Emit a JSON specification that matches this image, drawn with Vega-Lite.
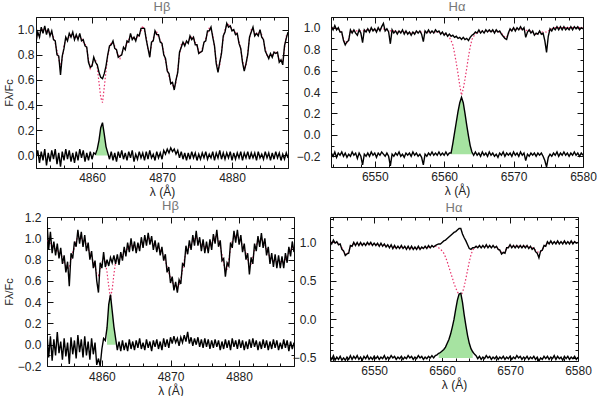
{
"$schema": "https://vega.github.io/schema/vega-lite/v6.json",
"padding": {"left": 1, "top": 0, "right": 0, "bottom": 0},
"config": {
  "font": "Liberation Sans",
  "view": {"stroke": "#111", "strokeWidth": 1},
  "axis": {"domain": false, "grid": false, "tickColor": "#111", "tickWidth": 1, "labelColor": "#222", "labelFontSize": 12, "titleFontSize": 12, "titleFontWeight": "normal", "titleColor": "#222", "labelFont": "Liberation Sans", "titleFont": "Liberation Sans", "labelFlush": false, "labelOverlap": false},
  "axisLeft": {"titleFontSize": 11},
  "title": {"fontSize": 13, "fontWeight": "normal", "color": "#777", "font": "Liberation Sans"}
},
"datasets": {
"p1": [
{"w":4852,"m":0.93,"o":0.90,"r":-0.02},{"w":4852.25,"m":0.95,"o":0.98,"r":0.04},{"w":4852.5,"m":0.97,"o":0.94,"r":-0.06},{"w":4852.75,"m":0.99,"o":1.02,"r":0.03},
{"w":4853,"m":1.00,"o":0.97,"r":-0.04},{"w":4853.25,"m":0.99,"o":1.03,"r":0.05},{"w":4853.5,"m":0.99,"o":0.96,"r":-0.08},{"w":4853.75,"m":0.98,"o":1.01,"r":0.02},
{"w":4854,"m":0.98,"o":0.95,"r":-0.05},{"w":4854.25,"m":0.97,"o":0.99,"r":0.04},{"w":4854.5,"m":0.94,"o":0.92,"r":-0.03},{"w":4854.75,"m":0.89,"o":0.91,"r":0.05},
{"w":4855,"m":0.83,"o":0.80,"r":-0.07},{"w":4855.25,"m":0.77,"o":0.79,"r":0.02},{"w":4855.5,"m":0.70,"o":0.64,"r":-0.09},{"w":4855.75,"m":0.77,"o":0.79,"r":0.03},
{"w":4856,"m":0.87,"o":0.85,"r":-0.04},{"w":4856.25,"m":0.92,"o":0.94,"r":0.05},{"w":4856.5,"m":0.93,"o":0.91,"r":-0.03},{"w":4856.75,"m":0.94,"o":0.97,"r":0.04},
{"w":4857,"m":0.96,"o":0.94,"r":-0.05},{"w":4857.25,"m":0.95,"o":0.98,"r":0.02},{"w":4857.5,"m":0.94,"o":0.92,"r":-0.06},{"w":4857.75,"m":0.94,"o":0.96,"r":0.03},
{"w":4858,"m":0.94,"o":0.92,"r":-0.04},{"w":4858.25,"m":0.95,"o":0.97,"r":0.05},{"w":4858.5,"m":0.93,"o":0.91,"r":-0.02},{"w":4858.75,"m":0.90,"o":0.92,"r":0.04},
{"w":4859,"m":0.89,"o":0.87,"r":-0.05},{"w":4859.25,"m":0.85,"o":0.86,"r":0.02},{"w":4859.5,"m":0.76,"o":0.74,"r":-0.04},{"w":4859.75,"m":0.69,"o":0.70,"r":0.03},
{"w":4860,"m":0.72,"o":0.71,"r":-0.03},{"w":4860.25,"m":0.77,"o":0.78,"r":0.02},{"w":4860.5,"m":0.76,"o":0.74,"r":0.01},{"w":4860.75,"m":0.70,"o":0.72,"r":0.05},
{"w":4861,"m":0.58,"o":0.66,"r":0.12},{"w":4861.25,"m":0.46,"o":0.62,"r":0.22},{"w":4861.5,"m":0.42,"o":0.61,"r":0.26},{"w":4861.75,"m":0.54,"o":0.65,"r":0.17},
{"w":4862,"m":0.67,"o":0.71,"r":0.07},{"w":4862.25,"m":0.79,"o":0.80,"r":0.02},{"w":4862.5,"m":0.86,"o":0.87,"r":-0.03},{"w":4862.75,"m":0.90,"o":0.88,"r":0.03},
{"w":4863,"m":0.89,"o":0.91,"r":-0.04},{"w":4863.25,"m":0.87,"o":0.85,"r":0.02},{"w":4863.5,"m":0.83,"o":0.84,"r":-0.05},{"w":4863.75,"m":0.80,"o":0.78,"r":0.03},
{"w":4864,"m":0.77,"o":0.79,"r":-0.02},{"w":4864.25,"m":0.81,"o":0.80,"r":0.04},{"w":4864.5,"m":0.84,"o":0.86,"r":-0.03},{"w":4864.75,"m":0.86,"o":0.84,"r":0.02},
{"w":4865,"m":0.89,"o":0.91,"r":-0.04},{"w":4865.25,"m":0.92,"o":0.90,"r":0.03},{"w":4865.5,"m":0.95,"o":0.97,"r":-0.02},{"w":4865.75,"m":0.94,"o":0.92,"r":0.04},
{"w":4866,"m":0.92,"o":0.94,"r":-0.05},{"w":4866.25,"m":0.93,"o":0.91,"r":0.01},{"w":4866.5,"m":0.94,"o":0.96,"r":-0.03},{"w":4866.75,"m":0.96,"o":0.95,"r":0.03},
{"w":4867,"m":0.99,"o":1.01,"r":-0.02},{"w":4867.25,"m":1.03,"o":1.01,"r":0.02},{"w":4867.5,"m":0.99,"o":1.01,"r":-0.04},{"w":4867.75,"m":0.94,"o":0.92,"r":0.03},
{"w":4868,"m":0.84,"o":0.85,"r":-0.03},{"w":4868.25,"m":0.80,"o":0.78,"r":0.04},{"w":4868.5,"m":0.88,"o":0.90,"r":-0.02},{"w":4868.75,"m":0.93,"o":0.91,"r":0.01},
{"w":4869,"m":0.97,"o":0.99,"r":-0.04},{"w":4869.25,"m":0.98,"o":0.96,"r":0.03},{"w":4869.5,"m":0.94,"o":0.96,"r":-0.02},{"w":4869.75,"m":0.92,"o":0.90,"r":0.02},
{"w":4870,"m":0.88,"o":0.89,"r":-0.03},{"w":4870.25,"m":0.82,"o":0.80,"r":0.04},{"w":4870.5,"m":0.75,"o":0.77,"r":0.01},{"w":4870.75,"m":0.69,"o":0.67,"r":0.05},
{"w":4871,"m":0.63,"o":0.65,"r":0.02},{"w":4871.25,"m":0.59,"o":0.57,"r":0.06},{"w":4871.5,"m":0.56,"o":0.58,"r":0.03},{"w":4871.75,"m":0.54,"o":0.52,"r":0.05},
{"w":4872,"m":0.58,"o":0.60,"r":0.01},{"w":4872.25,"m":0.68,"o":0.66,"r":0.04},{"w":4872.5,"m":0.80,"o":0.82,"r":-0.02},{"w":4872.75,"m":0.88,"o":0.86,"r":0.03},
{"w":4873,"m":0.89,"o":0.90,"r":-0.03},{"w":4873.25,"m":0.89,"o":0.87,"r":0.02},{"w":4873.5,"m":0.89,"o":0.91,"r":-0.04},{"w":4873.75,"m":0.90,"o":0.89,"r":0.02},
{"w":4874,"m":0.93,"o":0.95,"r":-0.03},{"w":4874.25,"m":0.94,"o":0.92,"r":0.03},{"w":4874.5,"m":0.93,"o":0.94,"r":-0.02},{"w":4874.75,"m":0.90,"o":0.88,"r":0.02},
{"w":4875,"m":0.87,"o":0.88,"r":-0.04},{"w":4875.25,"m":0.83,"o":0.81,"r":0.01},{"w":4875.5,"m":0.81,"o":0.82,"r":-0.03},{"w":4875.75,"m":0.85,"o":0.83,"r":0.02},
{"w":4876,"m":0.89,"o":0.90,"r":-0.02},{"w":4876.25,"m":0.93,"o":0.91,"r":0.03},{"w":4876.5,"m":0.97,"o":0.99,"r":-0.03},{"w":4876.75,"m":1.01,"o":0.99,"r":0.01},
{"w":4877,"m":1.00,"o":1.02,"r":-0.02},{"w":4877.25,"m":0.96,"o":0.94,"r":0.03},{"w":4877.5,"m":0.86,"o":0.87,"r":-0.04},{"w":4877.75,"m":0.75,"o":0.73,"r":0.02},
{"w":4878,"m":0.68,"o":0.66,"r":-0.02},{"w":4878.25,"m":0.72,"o":0.74,"r":0.04},{"w":4878.5,"m":0.83,"o":0.81,"r":-0.03},{"w":4878.75,"m":0.93,"o":0.95,"r":0.02},
{"w":4879,"m":1.00,"o":0.98,"r":-0.03},{"w":4879.25,"m":1.03,"o":1.05,"r":0.02},{"w":4879.5,"m":1.04,"o":1.02,"r":-0.02},{"w":4879.75,"m":1.02,"o":1.03,"r":0.03},
{"w":4880,"m":1.01,"o":0.99,"r":-0.04},{"w":4880.25,"m":0.99,"o":1.00,"r":0.02},{"w":4880.5,"m":0.98,"o":0.96,"r":-0.03},{"w":4880.75,"m":0.96,"o":0.97,"r":0.02},
{"w":4881,"m":0.91,"o":0.89,"r":-0.02},{"w":4881.25,"m":0.84,"o":0.85,"r":0.03},{"w":4881.5,"m":0.76,"o":0.74,"r":-0.04},{"w":4881.75,"m":0.69,"o":0.67,"r":0.02},
{"w":4882,"m":0.71,"o":0.73,"r":-0.02},{"w":4882.25,"m":0.82,"o":0.80,"r":0.03},{"w":4882.5,"m":0.93,"o":0.94,"r":-0.03},{"w":4882.75,"m":1.00,"o":0.98,"r":0.02},
{"w":4883,"m":1.00,"o":1.02,"r":-0.02},{"w":4883.25,"m":0.97,"o":0.95,"r":0.02},{"w":4883.5,"m":0.96,"o":0.97,"r":-0.04},{"w":4883.75,"m":0.97,"o":0.95,"r":0.03},
{"w":4884,"m":0.99,"o":1.00,"r":-0.02},{"w":4884.25,"m":0.96,"o":0.94,"r":0.01},{"w":4884.5,"m":0.91,"o":0.92,"r":-0.03},{"w":4884.75,"m":0.85,"o":0.83,"r":0.03},
{"w":4885,"m":0.79,"o":0.80,"r":-0.02},{"w":4885.25,"m":0.79,"o":0.77,"r":0.02},{"w":4885.5,"m":0.79,"o":0.81,"r":-0.04},{"w":4885.75,"m":0.80,"o":0.78,"r":0.02},
{"w":4886,"m":0.81,"o":0.82,"r":-0.03},{"w":4886.25,"m":0.83,"o":0.81,"r":0.03},{"w":4886.5,"m":0.80,"o":0.82,"r":-0.02},{"w":4886.75,"m":0.76,"o":0.74,"r":0.02},
{"w":4887,"m":0.75,"o":0.76,"r":-0.04},{"w":4887.25,"m":0.74,"o":0.72,"r":0.01},{"w":4887.5,"m":0.85,"o":0.87,"r":-0.03},{"w":4887.75,"m":0.95,"o":0.93,"r":0.02},
{"w":4888,"m":0.97,"o":0.98,"r":-0.02}
],
"p2": [
{"w":6543.75,"m":1.00,"o":1.01,"r":-0.17},{"w":6544,"m":1.00,"o":0.98,"r":-0.20},{"w":6544.25,"m":1.00,"o":1.02,"r":-0.16},{"w":6544.5,"m":0.99,"o":0.98,"r":-0.21},
{"w":6544.75,"m":0.99,"o":1.00,"r":-0.17},{"w":6545,"m":0.98,"o":0.96,"r":-0.19},{"w":6545.25,"m":0.95,"o":0.96,"r":-0.16},{"w":6545.5,"m":0.90,"o":0.88,"r":-0.20},
{"w":6545.75,"m":0.86,"o":0.84,"r":-0.17},{"w":6546,"m":0.86,"o":0.87,"r":-0.21},{"w":6546.25,"m":0.90,"o":0.88,"r":-0.18},{"w":6546.5,"m":0.96,"o":0.98,"r":-0.20},
{"w":6546.75,"m":0.97,"o":0.95,"r":-0.16},{"w":6547,"m":0.97,"o":0.98,"r":-0.19},{"w":6547.25,"m":0.97,"o":0.95,"r":-0.17},{"w":6547.5,"m":0.97,"o":0.93,"r":-0.22},
{"w":6547.75,"m":0.97,"o":0.98,"r":-0.17},{"w":6548,"m":0.97,"o":0.95,"r":-0.20},{"w":6548.25,"m":0.97,"o":0.86,"r":-0.28},{"w":6548.5,"m":0.97,"o":0.98,"r":-0.18},
{"w":6548.75,"m":0.98,"o":0.96,"r":-0.20},{"w":6549,"m":0.98,"o":0.99,"r":-0.17},{"w":6549.25,"m":0.98,"o":0.96,"r":-0.20},{"w":6549.5,"m":0.98,"o":1.00,"r":-0.16},
{"w":6549.75,"m":0.98,"o":0.97,"r":-0.19},{"w":6550,"m":0.98,"o":0.99,"r":-0.17},{"w":6550.25,"m":0.98,"o":0.96,"r":-0.21},{"w":6550.5,"m":0.98,"o":1.00,"r":-0.17},
{"w":6550.75,"m":0.99,"o":0.97,"r":-0.19},{"w":6551,"m":0.99,"o":1.01,"r":-0.16},{"w":6551.25,"m":0.99,"o":1.04,"r":-0.18},{"w":6551.5,"m":0.98,"o":0.97,"r":-0.20},
{"w":6551.75,"m":0.98,"o":0.99,"r":-0.17},{"w":6552,"m":0.98,"o":0.96,"r":-0.20},{"w":6552.25,"m":0.97,"o":0.85,"r":-0.29},{"w":6552.5,"m":0.97,"o":0.98,"r":-0.18},
{"w":6552.75,"m":0.97,"o":0.95,"r":-0.20},{"w":6553,"m":0.96,"o":0.97,"r":-0.17},{"w":6553.25,"m":0.96,"o":0.94,"r":-0.19},{"w":6553.5,"m":0.96,"o":0.97,"r":-0.16},
{"w":6553.75,"m":0.96,"o":0.95,"r":-0.20},{"w":6554,"m":0.96,"o":0.98,"r":-0.18},{"w":6554.25,"m":0.96,"o":0.94,"r":-0.21},{"w":6554.5,"m":0.96,"o":0.97,"r":-0.17},
{"w":6554.75,"m":0.95,"o":0.94,"r":-0.19},{"w":6555,"m":0.95,"o":0.96,"r":-0.17},{"w":6555.25,"m":0.95,"o":0.93,"r":-0.20},{"w":6555.5,"m":0.95,"o":0.96,"r":-0.16},
{"w":6555.75,"m":0.95,"o":0.94,"r":-0.19},{"w":6556,"m":0.96,"o":0.97,"r":-0.17},{"w":6556.25,"m":0.96,"o":0.95,"r":-0.20},{"w":6556.5,"m":0.96,"o":0.97,"r":-0.18},
{"w":6556.75,"m":0.96,"o":0.94,"r":-0.21},{"w":6557,"m":0.96,"o":0.87,"r":-0.28},{"w":6557.25,"m":0.96,"o":0.97,"r":-0.18},{"w":6557.5,"m":0.96,"o":0.95,"r":-0.20},
{"w":6557.75,"m":0.96,"o":0.98,"r":-0.17},{"w":6558,"m":0.96,"o":0.95,"r":-0.19},{"w":6558.25,"m":0.96,"o":0.97,"r":-0.16},{"w":6558.5,"m":0.96,"o":0.95,"r":-0.19},
{"w":6558.75,"m":0.96,"o":0.98,"r":-0.17},{"w":6559,"m":0.96,"o":0.96,"r":-0.19},{"w":6559.25,"m":0.96,"o":0.97,"r":-0.16},{"w":6559.5,"m":0.95,"o":0.94,"r":-0.19},
{"w":6559.75,"m":0.95,"o":0.96,"r":-0.17},{"w":6560,"m":0.94,"o":0.93,"r":-0.19},{"w":6560.25,"m":0.94,"o":0.95,"r":-0.16},{"w":6560.5,"m":0.93,"o":0.92,"r":-0.19},
{"w":6560.75,"m":0.91,"o":0.94,"r":-0.17},{"w":6561,"m":0.88,"o":0.92,"r":-0.17},{"w":6561.25,"m":0.84,"o":0.93,"r":-0.08},{"w":6561.5,"m":0.76,"o":0.91,"r":0.02},
{"w":6561.75,"m":0.67,"o":0.92,"r":0.12},{"w":6562,"m":0.57,"o":0.90,"r":0.22},{"w":6562.25,"m":0.46,"o":0.91,"r":0.30},{"w":6562.5,"m":0.37,"o":0.89,"r":0.35},
{"w":6562.75,"m":0.43,"o":0.91,"r":0.30},{"w":6563,"m":0.52,"o":0.89,"r":0.20},{"w":6563.25,"m":0.62,"o":0.90,"r":0.09},{"w":6563.5,"m":0.73,"o":0.88,"r":-0.01},
{"w":6563.75,"m":0.82,"o":0.91,"r":-0.10},{"w":6564,"m":0.89,"o":0.93,"r":-0.16},{"w":6564.25,"m":0.92,"o":0.94,"r":-0.19},{"w":6564.5,"m":0.94,"o":0.96,"r":-0.16},
{"w":6564.75,"m":0.96,"o":0.95,"r":-0.19},{"w":6565,"m":0.96,"o":0.98,"r":-0.17},{"w":6565.25,"m":0.96,"o":0.95,"r":-0.20},{"w":6565.5,"m":0.97,"o":0.97,"r":-0.16},
{"w":6565.75,"m":0.97,"o":0.95,"r":-0.19},{"w":6566,"m":0.97,"o":0.98,"r":-0.17},{"w":6566.25,"m":0.97,"o":0.96,"r":-0.20},{"w":6566.5,"m":0.97,"o":0.98,"r":-0.16},
{"w":6566.75,"m":0.97,"o":0.96,"r":-0.19},{"w":6567,"m":0.97,"o":0.98,"r":-0.17},{"w":6567.25,"m":0.97,"o":0.95,"r":-0.20},{"w":6567.5,"m":0.97,"o":0.98,"r":-0.18},
{"w":6567.75,"m":0.97,"o":0.96,"r":-0.21},{"w":6568,"m":0.96,"o":0.97,"r":-0.17},{"w":6568.25,"m":0.95,"o":0.94,"r":-0.19},{"w":6568.5,"m":0.93,"o":0.92,"r":-0.16},
{"w":6568.75,"m":0.91,"o":0.90,"r":-0.20},{"w":6569,"m":0.91,"o":0.89,"r":-0.17},{"w":6569.25,"m":0.94,"o":0.95,"r":-0.19},{"w":6569.5,"m":0.98,"o":0.99,"r":-0.17},
{"w":6569.75,"m":0.99,"o":0.97,"r":-0.20},{"w":6570,"m":0.99,"o":1.00,"r":-0.16},{"w":6570.25,"m":0.99,"o":0.97,"r":-0.19},{"w":6570.5,"m":0.99,"o":1.00,"r":-0.17},
{"w":6570.75,"m":0.99,"o":0.98,"r":-0.20},{"w":6571,"m":0.99,"o":1.01,"r":-0.16},{"w":6571.25,"m":0.99,"o":0.98,"r":-0.19},{"w":6571.5,"m":0.99,"o":1.00,"r":-0.17},
{"w":6571.75,"m":0.98,"o":0.91,"r":-0.24},{"w":6572,"m":0.97,"o":0.96,"r":-0.18},{"w":6572.25,"m":0.97,"o":0.98,"r":-0.20},{"w":6572.5,"m":0.97,"o":0.95,"r":-0.17},
{"w":6572.75,"m":0.96,"o":0.97,"r":-0.19},{"w":6573,"m":0.95,"o":0.93,"r":-0.17},{"w":6573.25,"m":0.94,"o":0.95,"r":-0.20},{"w":6573.5,"m":0.95,"o":0.94,"r":-0.17},
{"w":6573.75,"m":0.96,"o":0.97,"r":-0.19},{"w":6574,"m":0.96,"o":0.94,"r":-0.17},{"w":6574.25,"m":0.96,"o":0.95,"r":-0.20},{"w":6574.5,"m":0.96,"o":0.88,"r":-0.24},
{"w":6574.75,"m":0.96,"o":0.77,"r":-0.30},{"w":6575,"m":0.97,"o":0.92,"r":-0.21},{"w":6575.25,"m":0.98,"o":0.99,"r":-0.18},{"w":6575.5,"m":0.99,"o":0.97,"r":-0.20},
{"w":6575.75,"m":0.99,"o":1.00,"r":-0.17},{"w":6576,"m":1.00,"o":0.98,"r":-0.19},{"w":6576.25,"m":1.00,"o":1.01,"r":-0.16},{"w":6576.5,"m":1.00,"o":0.98,"r":-0.20},
{"w":6576.75,"m":1.00,"o":1.01,"r":-0.17},{"w":6577,"m":1.00,"o":0.98,"r":-0.19},{"w":6577.25,"m":1.00,"o":1.01,"r":-0.16},{"w":6577.5,"m":1.00,"o":0.98,"r":-0.19},
{"w":6577.75,"m":1.00,"o":1.00,"r":-0.17},{"w":6578,"m":1.00,"o":0.98,"r":-0.20},{"w":6578.25,"m":1.00,"o":1.01,"r":-0.17},{"w":6578.5,"m":1.00,"o":0.98,"r":-0.19},
{"w":6578.75,"m":1.00,"o":1.01,"r":-0.16},{"w":6579,"m":1.00,"o":0.99,"r":-0.19},{"w":6579.25,"m":1.00,"o":1.01,"r":-0.17},{"w":6579.5,"m":1.00,"o":0.98,"r":-0.20},
{"w":6579.75,"m":1.00,"o":1.00,"r":-0.17},{"w":6580,"m":1.00,"o":0.99,"r":-0.19}
],
"p3": [
{"w":4852,"m":0.98,"o":1.15,"r":0.10},{"w":4852.25,"m":0.97,"o":0.90,"r":-0.12},{"w":4852.5,"m":0.95,"o":1.06,"r":0.08},{"w":4852.75,"m":0.93,"o":0.86,"r":-0.15},
{"w":4853,"m":0.91,"o":0.97,"r":0.05},{"w":4853.25,"m":0.90,"o":0.84,"r":-0.10},{"w":4853.5,"m":0.88,"o":0.95,"r":0.12},{"w":4853.75,"m":0.87,"o":0.81,"r":-0.08},
{"w":4854,"m":0.85,"o":0.91,"r":0.03},{"w":4854.25,"m":0.82,"o":0.76,"r":-0.14},{"w":4854.5,"m":0.77,"o":0.84,"r":0.06},{"w":4854.75,"m":0.74,"o":0.68,"r":-0.11},
{"w":4855,"m":0.72,"o":0.78,"r":0.02},{"w":4855.25,"m":0.72,"o":0.55,"r":-0.18},{"w":4855.5,"m":0.80,"o":0.86,"r":0.07},{"w":4855.75,"m":0.87,"o":0.81,"r":-0.09},
{"w":4856,"m":0.91,"o":0.97,"r":0.04},{"w":4856.25,"m":0.97,"o":0.92,"r":-0.13},{"w":4856.5,"m":1.02,"o":1.08,"r":0.09},{"w":4856.75,"m":1.01,"o":0.95,"r":-0.07},
{"w":4857,"m":1.00,"o":1.06,"r":0.05},{"w":4857.25,"m":0.98,"o":0.92,"r":-0.12},{"w":4857.5,"m":0.97,"o":1.03,"r":0.08},{"w":4857.75,"m":0.94,"o":0.88,"r":-0.10},
{"w":4858,"m":0.90,"o":0.96,"r":0.03},{"w":4858.25,"m":0.86,"o":0.80,"r":-0.14},{"w":4858.5,"m":0.82,"o":0.88,"r":0.06},{"w":4858.75,"m":0.78,"o":0.72,"r":-0.09},
{"w":4859,"m":0.73,"o":0.79,"r":0.02},{"w":4859.25,"m":0.67,"o":0.60,"r":-0.19},{"w":4859.5,"m":0.65,"o":0.49,"r":-0.13},{"w":4859.75,"m":0.71,"o":0.77,"r":-0.20},
{"w":4860,"m":0.77,"o":0.72,"r":-0.04},{"w":4860.25,"m":0.81,"o":0.87,"r":0.06},{"w":4860.5,"m":0.78,"o":0.73,"r":0.04},{"w":4860.75,"m":0.68,"o":0.80,"r":0.16},
{"w":4861,"m":0.55,"o":0.74,"r":0.38},{"w":4861.25,"m":0.44,"o":0.82,"r":0.47},{"w":4861.5,"m":0.52,"o":0.77,"r":0.32},{"w":4861.75,"m":0.66,"o":0.84,"r":0.17},
{"w":4862,"m":0.78,"o":0.76,"r":0.06},{"w":4862.25,"m":0.79,"o":0.85,"r":-0.05},{"w":4862.5,"m":0.80,"o":0.75,"r":0.03},{"w":4862.75,"m":0.81,"o":0.87,"r":-0.06},
{"w":4863,"m":0.84,"o":0.79,"r":0.04},{"w":4863.25,"m":0.86,"o":0.92,"r":-0.05},{"w":4863.5,"m":0.88,"o":0.83,"r":0.02},{"w":4863.75,"m":0.90,"o":0.96,"r":-0.06},
{"w":4864,"m":0.92,"o":0.87,"r":0.05},{"w":4864.25,"m":0.94,"o":1.00,"r":-0.04},{"w":4864.5,"m":0.93,"o":0.88,"r":0.03},{"w":4864.75,"m":0.92,"o":0.97,"r":-0.05},
{"w":4865,"m":0.91,"o":0.86,"r":0.04},{"w":4865.25,"m":0.91,"o":0.96,"r":-0.03},{"w":4865.5,"m":0.93,"o":0.88,"r":0.06},{"w":4865.75,"m":0.95,"o":1.01,"r":-0.04},
{"w":4866,"m":0.96,"o":0.91,"r":0.02},{"w":4866.25,"m":0.97,"o":1.03,"r":-0.05},{"w":4866.5,"m":0.98,"o":0.93,"r":0.05},{"w":4866.75,"m":0.99,"o":1.05,"r":-0.03},
{"w":4867,"m":1.00,"o":0.94,"r":0.03},{"w":4867.25,"m":0.97,"o":1.02,"r":-0.06},{"w":4867.5,"m":0.94,"o":0.89,"r":0.04},{"w":4867.75,"m":0.93,"o":0.98,"r":-0.02},
{"w":4868,"m":0.92,"o":0.87,"r":0.05},{"w":4868.25,"m":0.91,"o":0.96,"r":-0.04},{"w":4868.5,"m":0.89,"o":0.84,"r":0.03},{"w":4868.75,"m":0.87,"o":0.92,"r":-0.05},
{"w":4869,"m":0.84,"o":0.79,"r":0.06},{"w":4869.25,"m":0.79,"o":0.85,"r":-0.02},{"w":4869.5,"m":0.73,"o":0.68,"r":0.05},{"w":4869.75,"m":0.68,"o":0.73,"r":-0.03},
{"w":4870,"m":0.63,"o":0.58,"r":0.07},{"w":4870.25,"m":0.59,"o":0.64,"r":0.01},{"w":4870.5,"m":0.56,"o":0.51,"r":0.08},{"w":4870.75,"m":0.54,"o":0.59,"r":0.02},
{"w":4871,"m":0.54,"o":0.49,"r":0.06},{"w":4871.25,"m":0.56,"o":0.61,"r":-0.01},{"w":4871.5,"m":0.62,"o":0.57,"r":0.07},{"w":4871.75,"m":0.70,"o":0.76,"r":0.02},
{"w":4872,"m":0.79,"o":0.74,"r":0.09},{"w":4872.25,"m":0.87,"o":0.93,"r":0.03},{"w":4872.5,"m":0.90,"o":0.85,"r":0.12},{"w":4872.75,"m":0.92,"o":0.98,"r":0.01},
{"w":4873,"m":0.94,"o":0.89,"r":0.07},{"w":4873.25,"m":0.97,"o":1.03,"r":-0.01},{"w":4873.5,"m":0.99,"o":0.93,"r":0.06},{"w":4873.75,"m":1.01,"o":1.07,"r":0.00},
{"w":4874,"m":0.99,"o":0.93,"r":0.07},{"w":4874.25,"m":0.96,"o":1.01,"r":-0.02},{"w":4874.5,"m":0.94,"o":0.88,"r":0.05},{"w":4874.75,"m":0.93,"o":0.99,"r":-0.03},
{"w":4875,"m":0.92,"o":0.86,"r":0.06},{"w":4875.25,"m":0.91,"o":0.97,"r":-0.02},{"w":4875.5,"m":0.92,"o":0.86,"r":0.05},{"w":4875.75,"m":0.93,"o":0.99,"r":-0.04},
{"w":4876,"m":0.95,"o":0.89,"r":0.04},{"w":4876.25,"m":0.98,"o":1.04,"r":-0.03},{"w":4876.5,"m":1.01,"o":0.95,"r":0.05},{"w":4876.75,"m":1.02,"o":1.08,"r":-0.02},
{"w":4877,"m":0.98,"o":0.92,"r":0.04},{"w":4877.25,"m":0.92,"o":0.98,"r":-0.05},{"w":4877.5,"m":0.85,"o":0.79,"r":0.03},{"w":4877.75,"m":0.76,"o":0.81,"r":-0.04},
{"w":4878,"m":0.70,"o":0.64,"r":0.05},{"w":4878.25,"m":0.71,"o":0.77,"r":-0.03},{"w":4878.5,"m":0.80,"o":0.74,"r":0.04},{"w":4878.75,"m":0.90,"o":0.96,"r":-0.05},
{"w":4879,"m":0.97,"o":0.91,"r":0.06},{"w":4879.25,"m":1.01,"o":1.07,"r":-0.02},{"w":4879.5,"m":1.02,"o":0.96,"r":0.04},{"w":4879.75,"m":1.02,"o":1.08,"r":-0.04},
{"w":4880,"m":1.00,"o":0.94,"r":0.05},{"w":4880.25,"m":0.97,"o":1.03,"r":-0.03},{"w":4880.5,"m":0.93,"o":0.87,"r":0.04},{"w":4880.75,"m":0.89,"o":0.95,"r":-0.05},
{"w":4881,"m":0.86,"o":0.80,"r":0.03},{"w":4881.25,"m":0.80,"o":0.86,"r":-0.04},{"w":4881.5,"m":0.73,"o":0.66,"r":0.05},{"w":4881.75,"m":0.76,"o":0.82,"r":-0.03},
{"w":4882,"m":0.82,"o":0.76,"r":0.06},{"w":4882.25,"m":0.89,"o":0.95,"r":-0.02},{"w":4882.5,"m":0.94,"o":0.88,"r":0.04},{"w":4882.75,"m":0.96,"o":1.02,"r":-0.05},
{"w":4883,"m":0.98,"o":0.92,"r":0.03},{"w":4883.25,"m":0.99,"o":1.05,"r":-0.04},{"w":4883.5,"m":0.97,"o":0.91,"r":0.05},{"w":4883.75,"m":0.94,"o":1.00,"r":-0.03},
{"w":4884,"m":0.90,"o":0.84,"r":0.04},{"w":4884.25,"m":0.86,"o":0.92,"r":-0.05},{"w":4884.5,"m":0.82,"o":0.76,"r":0.03},{"w":4884.75,"m":0.80,"o":0.86,"r":-0.04},
{"w":4885,"m":0.79,"o":0.73,"r":0.05},{"w":4885.25,"m":0.79,"o":0.85,"r":-0.03},{"w":4885.5,"m":0.78,"o":0.72,"r":0.04},{"w":4885.75,"m":0.78,"o":0.84,"r":-0.05},
{"w":4886,"m":0.78,"o":0.72,"r":0.02},{"w":4886.25,"m":0.77,"o":0.83,"r":-0.04},{"w":4886.5,"m":0.78,"o":0.72,"r":0.05},{"w":4886.75,"m":0.80,"o":0.86,"r":-0.03},
{"w":4887,"m":0.83,"o":0.77,"r":0.04},{"w":4887.25,"m":0.86,"o":0.92,"r":-0.06},{"w":4887.5,"m":0.89,"o":0.83,"r":0.03},{"w":4887.75,"m":0.91,"o":0.97,"r":-0.04},
{"w":4888,"m":0.92,"o":0.87,"r":0.02}
],
"p4": [
{"w":6543.5,"m":1.00,"o":1.02,"r":-0.48},{"w":6543.75,"m":1.00,"o":0.98,"r":-0.52},{"w":6544,"m":1.00,"o":1.03,"r":-0.47},{"w":6544.25,"m":1.00,"o":0.99,"r":-0.53},
{"w":6544.5,"m":0.99,"o":1.01,"r":-0.49},{"w":6544.75,"m":0.99,"o":0.97,"r":-0.52},{"w":6545,"m":0.97,"o":0.98,"r":-0.48},{"w":6545.25,"m":0.93,"o":0.91,"r":-0.53},
{"w":6545.5,"m":0.88,"o":0.89,"r":-0.50},{"w":6545.75,"m":0.85,"o":0.83,"r":-0.53},{"w":6546,"m":0.84,"o":0.85,"r":-0.49},{"w":6546.25,"m":0.88,"o":0.86,"r":-0.52},
{"w":6546.5,"m":0.94,"o":0.96,"r":-0.47},{"w":6546.75,"m":0.97,"o":0.95,"r":-0.52},{"w":6547,"m":0.98,"o":1.00,"r":-0.48},{"w":6547.25,"m":0.98,"o":0.96,"r":-0.51},
{"w":6547.5,"m":0.98,"o":1.00,"r":-0.47},{"w":6547.75,"m":0.98,"o":0.96,"r":-0.52},{"w":6548,"m":0.98,"o":1.00,"r":-0.49},{"w":6548.25,"m":0.98,"o":0.96,"r":-0.53},
{"w":6548.5,"m":0.98,"o":0.99,"r":-0.48},{"w":6548.75,"m":0.98,"o":0.96,"r":-0.51},{"w":6549,"m":0.98,"o":1.00,"r":-0.47},{"w":6549.25,"m":0.98,"o":0.97,"r":-0.52},
{"w":6549.5,"m":0.98,"o":1.00,"r":-0.49},{"w":6549.75,"m":0.98,"o":0.96,"r":-0.52},{"w":6550,"m":0.98,"o":0.99,"r":-0.48},{"w":6550.25,"m":0.98,"o":0.96,"r":-0.51},
{"w":6550.5,"m":0.97,"o":0.99,"r":-0.48},{"w":6550.75,"m":0.97,"o":0.95,"r":-0.52},{"w":6551,"m":0.97,"o":0.99,"r":-0.49},{"w":6551.25,"m":0.97,"o":0.95,"r":-0.51},
{"w":6551.5,"m":0.96,"o":0.98,"r":-0.47},{"w":6551.75,"m":0.96,"o":0.94,"r":-0.52},{"w":6552,"m":0.96,"o":0.97,"r":-0.49},{"w":6552.25,"m":0.95,"o":0.93,"r":-0.51},
{"w":6552.5,"m":0.95,"o":0.97,"r":-0.47},{"w":6552.75,"m":0.94,"o":0.92,"r":-0.50},{"w":6553,"m":0.94,"o":0.96,"r":-0.48},{"w":6553.25,"m":0.94,"o":0.92,"r":-0.52},
{"w":6553.5,"m":0.94,"o":0.95,"r":-0.49},{"w":6553.75,"m":0.94,"o":0.92,"r":-0.51},{"w":6554,"m":0.94,"o":0.96,"r":-0.48},{"w":6554.25,"m":0.94,"o":0.92,"r":-0.52},
{"w":6554.5,"m":0.94,"o":0.95,"r":-0.49},{"w":6554.75,"m":0.93,"o":0.91,"r":-0.51},{"w":6555,"m":0.93,"o":0.95,"r":-0.47},{"w":6555.25,"m":0.93,"o":0.91,"r":-0.50},
{"w":6555.5,"m":0.93,"o":0.95,"r":-0.48},{"w":6555.75,"m":0.93,"o":0.91,"r":-0.52},{"w":6556,"m":0.93,"o":0.94,"r":-0.49},{"w":6556.25,"m":0.93,"o":0.91,"r":-0.51},
{"w":6556.5,"m":0.93,"o":0.95,"r":-0.47},{"w":6556.75,"m":0.93,"o":0.91,"r":-0.50},{"w":6557,"m":0.93,"o":0.94,"r":-0.48},{"w":6557.25,"m":0.93,"o":0.92,"r":-0.52},
{"w":6557.5,"m":0.94,"o":0.95,"r":-0.49},{"w":6557.75,"m":0.94,"o":0.92,"r":-0.51},{"w":6558,"m":0.94,"o":0.96,"r":-0.48},{"w":6558.25,"m":0.94,"o":0.93,"r":-0.50},
{"w":6558.5,"m":0.95,"o":0.96,"r":-0.47},{"w":6558.75,"m":0.95,"o":0.94,"r":-0.50},{"w":6559,"m":0.95,"o":0.96,"r":-0.47},{"w":6559.25,"m":0.94,"o":0.97,"r":-0.46},
{"w":6559.5,"m":0.93,"o":0.98,"r":-0.44},{"w":6559.75,"m":0.91,"o":0.98,"r":-0.43},{"w":6560,"m":0.89,"o":1.00,"r":-0.41},{"w":6560.25,"m":0.86,"o":1.02,"r":-0.39},
{"w":6560.5,"m":0.81,"o":1.03,"r":-0.36},{"w":6560.75,"m":0.75,"o":1.05,"r":-0.31},{"w":6561,"m":0.68,"o":1.07,"r":-0.26},{"w":6561.25,"m":0.61,"o":1.09,"r":-0.19},
{"w":6561.5,"m":0.54,"o":1.11,"r":-0.10},{"w":6561.75,"m":0.47,"o":1.13,"r":0.00},{"w":6562,"m":0.41,"o":1.14,"r":0.13},{"w":6562.25,"m":0.36,"o":1.16,"r":0.25},
{"w":6562.5,"m":0.32,"o":1.18,"r":0.33},{"w":6562.75,"m":0.31,"o":1.18,"r":0.34},{"w":6563,"m":0.35,"o":1.11,"r":0.22},{"w":6563.25,"m":0.43,"o":1.06,"r":0.06},
{"w":6563.5,"m":0.53,"o":1.02,"r":-0.08},{"w":6563.75,"m":0.64,"o":0.97,"r":-0.21},{"w":6564,"m":0.75,"o":0.92,"r":-0.31},{"w":6564.25,"m":0.84,"o":0.91,"r":-0.38},
{"w":6564.5,"m":0.90,"o":0.93,"r":-0.42},{"w":6564.75,"m":0.93,"o":0.93,"r":-0.45},{"w":6565,"m":0.94,"o":0.95,"r":-0.47},{"w":6565.25,"m":0.95,"o":0.93,"r":-0.51},
{"w":6565.5,"m":0.95,"o":0.96,"r":-0.48},{"w":6565.75,"m":0.95,"o":0.93,"r":-0.52},{"w":6566,"m":0.95,"o":0.96,"r":-0.49},{"w":6566.25,"m":0.95,"o":0.93,"r":-0.51},
{"w":6566.5,"m":0.95,"o":0.97,"r":-0.47},{"w":6566.75,"m":0.95,"o":0.93,"r":-0.50},{"w":6567,"m":0.95,"o":0.96,"r":-0.48},{"w":6567.25,"m":0.95,"o":0.93,"r":-0.52},
{"w":6567.5,"m":0.95,"o":0.96,"r":-0.49},{"w":6567.75,"m":0.95,"o":0.93,"r":-0.51},{"w":6568,"m":0.94,"o":0.95,"r":-0.48},{"w":6568.25,"m":0.92,"o":0.91,"r":-0.52},
{"w":6568.5,"m":0.89,"o":0.90,"r":-0.49},{"w":6568.75,"m":0.87,"o":0.85,"r":-0.51},{"w":6569,"m":0.86,"o":0.87,"r":-0.48},{"w":6569.25,"m":0.88,"o":0.86,"r":-0.52},
{"w":6569.5,"m":0.92,"o":0.93,"r":-0.49},{"w":6569.75,"m":0.94,"o":0.93,"r":-0.51},{"w":6570,"m":0.95,"o":0.97,"r":-0.48},{"w":6570.25,"m":0.95,"o":0.93,"r":-0.52},
{"w":6570.5,"m":0.95,"o":0.96,"r":-0.49},{"w":6570.75,"m":0.95,"o":0.93,"r":-0.51},{"w":6571,"m":0.95,"o":0.96,"r":-0.47},{"w":6571.25,"m":0.95,"o":0.93,"r":-0.50},
{"w":6571.5,"m":0.95,"o":0.96,"r":-0.48},{"w":6571.75,"m":0.95,"o":0.93,"r":-0.52},{"w":6572,"m":0.95,"o":0.96,"r":-0.49},{"w":6572.25,"m":0.95,"o":0.93,"r":-0.51},
{"w":6572.5,"m":0.95,"o":0.96,"r":-0.48},{"w":6572.75,"m":0.94,"o":0.92,"r":-0.52},{"w":6573,"m":0.94,"o":0.95,"r":-0.49},{"w":6573.25,"m":0.93,"o":0.91,"r":-0.51},
{"w":6573.5,"m":0.92,"o":0.93,"r":-0.48},{"w":6573.75,"m":0.90,"o":0.88,"r":-0.52},{"w":6574,"m":0.88,"o":0.86,"r":-0.49},{"w":6574.25,"m":0.87,"o":0.80,"r":-0.54},
{"w":6574.5,"m":0.88,"o":0.89,"r":-0.50},{"w":6574.75,"m":0.91,"o":0.90,"r":-0.52},{"w":6575,"m":0.94,"o":0.96,"r":-0.48},{"w":6575.25,"m":0.97,"o":0.95,"r":-0.51},
{"w":6575.5,"m":0.99,"o":1.01,"r":-0.48},{"w":6575.75,"m":1.00,"o":0.98,"r":-0.52},{"w":6576,"m":1.00,"o":1.02,"r":-0.49},{"w":6576.25,"m":1.00,"o":0.98,"r":-0.51},
{"w":6576.5,"m":1.00,"o":1.01,"r":-0.47},{"w":6576.75,"m":1.00,"o":0.98,"r":-0.52},{"w":6577,"m":1.00,"o":1.02,"r":-0.48},{"w":6577.25,"m":1.00,"o":0.98,"r":-0.51},
{"w":6577.5,"m":1.00,"o":1.01,"r":-0.49},{"w":6577.75,"m":1.00,"o":0.98,"r":-0.53},{"w":6578,"m":1.00,"o":1.02,"r":-0.48},{"w":6578.25,"m":1.00,"o":0.98,"r":-0.51},
{"w":6578.5,"m":1.00,"o":1.01,"r":-0.48},{"w":6578.75,"m":1.00,"o":0.98,"r":-0.52},{"w":6579,"m":1.00,"o":1.02,"r":-0.49},{"w":6579.25,"m":1.00,"o":0.98,"r":-0.51},
{"w":6579.5,"m":1.00,"o":1.01,"r":-0.48},{"w":6579.75,"m":1.00,"o":0.99,"r":-0.52},{"w":6580,"m":1.00,"o":1.00,"r":-0.49}
]
},
"vconcat": [
{"hconcat": [
 {"width": 1, "height": 1, "data": {"values": []}, "mark": "point", "view": {"stroke": null}},
 {"hconcat": [
 {"width": 252, "height": 151, "title": {"text": "Hβ", "offset": -3}, "data": {"name": "p1"},
  "layer": [
   {"mark": {"type": "line", "color": "#e8336b", "strokeDash": [1.5, 2], "strokeWidth": 1.2, "clip": true},
    "encoding": {
     "x": {"field": "w", "type": "quantitative", "scale": {"domain": [4852, 4888], "nice": false, "zero": false},
       "axis": {"orient": "bottom", "values": [4852,4854,4856,4858,4860,4862,4864,4866,4868,4870,4872,4874,4876,4878,4880,4882,4884,4886,4888], "format": "d", "labelExpr": "datum.value % 10 === 0 ? datum.label : ''", "tickSize": {"condition": {"test": "datum.value % 10 === 0", "value": -6}, "value": -3}, "labelPadding": 10, "title": "λ (Å)", "titlePadding": 0}},
     "y": {"field": "m", "type": "quantitative", "scale": {"domain": [-0.1, 1.1], "nice": false, "zero": false},
       "axis": {"orient": "left", "values": [-0.1,0,0.1,0.2,0.3,0.4,0.5,0.6,0.7,0.8,0.9,1,1.1], "format": ".1f", "labelExpr": "abs(round(datum.value*10)) % 2 === 0 ? datum.label : ''", "tickSize": {"condition": {"test": "abs(round(datum.value*10)) % 2 === 0", "value": -6}, "value": -3}, "labelPadding": 8, "title": "Fλ/Fc", "titlePadding": 3}}
    }},
   {"mark": {"type": "line", "color": "#000", "strokeWidth": 1.4, "clip": true},
    "encoding": {
     "x": {"field": "w", "type": "quantitative", "scale": {"domain": [4852, 4888], "nice": false, "zero": false},
       "axis": {"orient": "top", "values": [4852,4854,4856,4858,4860,4862,4864,4866,4868,4870,4872,4874,4876,4878,4880,4882,4884,4886,4888], "labels": false, "title": null, "tickSize": {"condition": {"test": "datum.value % 10 === 0", "value": -6}, "value": -3}}},
     "y": {"field": "o", "type": "quantitative", "scale": {"domain": [-0.1, 1.1], "nice": false, "zero": false},
       "axis": {"orient": "right", "values": [-0.1,0,0.1,0.2,0.3,0.4,0.5,0.6,0.7,0.8,0.9,1,1.1], "labels": false, "title": null, "tickSize": {"condition": {"test": "abs(round(datum.value*10)) % 2 === 0", "value": -6}, "value": -3}}}
    }},
   {"transform": [{"filter": "datum.w >= 4860.5 && datum.w <= 4862.25"}],
    "mark": {"type": "area", "color": "#a6e3a1", "clip": true},
    "encoding": {
     "x": {"field": "w", "type": "quantitative", "scale": {"domain": [4852, 4888], "nice": false, "zero": false}, "axis": null},
     "y": {"field": "r", "type": "quantitative", "scale": {"domain": [-0.1, 1.1], "nice": false, "zero": false}, "axis": null},
     "y2": {"datum": 0}
    }},
   {"mark": {"type": "line", "color": "#000", "strokeWidth": 1.4, "clip": true},
    "encoding": {
     "x": {"field": "w", "type": "quantitative", "scale": {"domain": [4852, 4888], "nice": false, "zero": false}, "axis": null},
     "y": {"field": "r", "type": "quantitative", "scale": {"domain": [-0.1, 1.1], "nice": false, "zero": false}, "axis": null}
    }}
  ],
  "resolve": {"axis": {"x": "independent", "y": "independent"}}
 },
 {"width": 252, "height": 150, "title": {"text": "Hα", "offset": -3}, "data": {"name": "p2"},
  "layer": [
   {"mark": {"type": "line", "color": "#e8336b", "strokeDash": [1.5, 2], "strokeWidth": 1.2, "clip": true},
    "encoding": {
     "x": {"field": "w", "type": "quantitative", "scale": {"domain": [6543.7, 6580], "nice": false, "zero": false},
       "axis": {"orient": "bottom", "values": [6544,6546,6548,6550,6552,6554,6556,6558,6560,6562,6564,6566,6568,6570,6572,6574,6576,6578,6580], "format": "d", "labelExpr": "datum.value % 10 === 0 ? datum.label : ''", "tickSize": {"condition": {"test": "datum.value % 10 === 0", "value": -6}, "value": -3}, "labelPadding": 10, "title": "λ (Å)", "titlePadding": 0}},
     "y": {"field": "m", "type": "quantitative", "scale": {"domain": [-0.3, 1.1], "nice": false, "zero": false},
       "axis": {"orient": "left", "values": [-0.3,-0.2,-0.1,0,0.1,0.2,0.3,0.4,0.5,0.6,0.7,0.8,0.9,1,1.1], "format": ".1f", "labelExpr": "abs(round(datum.value*10)) % 2 === 0 ? datum.label : ''", "tickSize": {"condition": {"test": "abs(round(datum.value*10)) % 2 === 0", "value": -6}, "value": -3}, "labelPadding": 17, "title": null}}
    }},
   {"mark": {"type": "line", "color": "#000", "strokeWidth": 1.4, "clip": true},
    "encoding": {
     "x": {"field": "w", "type": "quantitative", "scale": {"domain": [6543.7, 6580], "nice": false, "zero": false},
       "axis": {"orient": "top", "values": [6544,6546,6548,6550,6552,6554,6556,6558,6560,6562,6564,6566,6568,6570,6572,6574,6576,6578,6580], "labels": false, "title": null, "tickSize": {"condition": {"test": "datum.value % 10 === 0", "value": -6}, "value": -3}}},
     "y": {"field": "o", "type": "quantitative", "scale": {"domain": [-0.3, 1.1], "nice": false, "zero": false},
       "axis": {"orient": "right", "values": [-0.3,-0.2,-0.1,0,0.1,0.2,0.3,0.4,0.5,0.6,0.7,0.8,0.9,1,1.1], "labels": false, "title": null, "tickSize": {"condition": {"test": "abs(round(datum.value*10)) % 2 === 0", "value": -6}, "value": -3}}}
    }},
   {"transform": [{"filter": "datum.w >= 6561 && datum.w <= 6564"}],
    "mark": {"type": "area", "color": "#a6e3a1", "clip": true},
    "encoding": {
     "x": {"field": "w", "type": "quantitative", "scale": {"domain": [6543.7, 6580], "nice": false, "zero": false}, "axis": null},
     "y": {"field": "r", "type": "quantitative", "scale": {"domain": [-0.3, 1.1], "nice": false, "zero": false}, "axis": null},
     "y2": {"datum": -0.18}
    }},
   {"mark": {"type": "line", "color": "#000", "strokeWidth": 1.4, "clip": true},
    "encoding": {
     "x": {"field": "w", "type": "quantitative", "scale": {"domain": [6543.7, 6580], "nice": false, "zero": false}, "axis": null},
     "y": {"field": "r", "type": "quantitative", "scale": {"domain": [-0.3, 1.1], "nice": false, "zero": false}, "axis": null}
    }}
  ],
  "resolve": {"axis": {"x": "independent", "y": "independent"}}
 }
 ], "spacing": 6}
], "spacing": 0},
{"hconcat": [
 {"width": 1, "height": 1, "data": {"values": []}, "mark": "point", "view": {"stroke": null}},
 {"hconcat": [
 {"width": 247, "height": 149, "title": {"text": "Hβ", "offset": -2}, "data": {"name": "p3"},
  "layer": [
   {"mark": {"type": "line", "color": "#e8336b", "strokeDash": [1.5, 2], "strokeWidth": 1.2, "clip": true},
    "encoding": {
     "x": {"field": "w", "type": "quantitative", "scale": {"domain": [4852, 4888], "nice": false, "zero": false},
       "axis": {"orient": "bottom", "values": [4852,4854,4856,4858,4860,4862,4864,4866,4868,4870,4872,4874,4876,4878,4880,4882,4884,4886,4888], "format": "d", "labelExpr": "datum.value % 10 === 0 ? datum.label : ''", "tickSize": {"condition": {"test": "datum.value % 10 === 0", "value": -6}, "value": -3}, "labelPadding": 11, "title": "λ (Å)", "titlePadding": 0}},
     "y": {"field": "m", "type": "quantitative", "scale": {"domain": [-0.2, 1.2], "nice": false, "zero": false},
       "axis": {"orient": "left", "values": [-0.2,-0.1,0,0.1,0.2,0.3,0.4,0.5,0.6,0.7,0.8,0.9,1,1.1,1.2], "format": ".1f", "labelExpr": "abs(round(datum.value*10)) % 2 === 0 ? datum.label : ''", "tickSize": {"condition": {"test": "abs(round(datum.value*10)) % 2 === 0", "value": -6}, "value": -3}, "labelPadding": 12, "title": "Fλ/Fc", "titlePadding": 3}}
    }},
   {"mark": {"type": "line", "color": "#000", "strokeWidth": 1.4, "clip": true},
    "encoding": {
     "x": {"field": "w", "type": "quantitative", "scale": {"domain": [4852, 4888], "nice": false, "zero": false},
       "axis": {"orient": "top", "values": [4852,4854,4856,4858,4860,4862,4864,4866,4868,4870,4872,4874,4876,4878,4880,4882,4884,4886,4888], "labels": false, "title": null, "tickSize": {"condition": {"test": "datum.value % 10 === 0", "value": -6}, "value": -3}}},
     "y": {"field": "o", "type": "quantitative", "scale": {"domain": [-0.2, 1.2], "nice": false, "zero": false},
       "axis": {"orient": "right", "values": [-0.2,-0.1,0,0.1,0.2,0.3,0.4,0.5,0.6,0.7,0.8,0.9,1,1.1,1.2], "labels": false, "title": null, "tickSize": {"condition": {"test": "abs(round(datum.value*10)) % 2 === 0", "value": -6}, "value": -3}}}
    }},
   {"transform": [{"filter": "datum.w >= 4860.75 && datum.w <= 4862"}],
    "mark": {"type": "area", "color": "#a6e3a1", "clip": true},
    "encoding": {
     "x": {"field": "w", "type": "quantitative", "scale": {"domain": [4852, 4888], "nice": false, "zero": false}, "axis": null},
     "y": {"field": "r", "type": "quantitative", "scale": {"domain": [-0.2, 1.2], "nice": false, "zero": false}, "axis": null},
     "y2": {"datum": 0}
    }},
   {"mark": {"type": "line", "color": "#000", "strokeWidth": 1.4, "clip": true},
    "encoding": {
     "x": {"field": "w", "type": "quantitative", "scale": {"domain": [4852, 4888], "nice": false, "zero": false}, "axis": null},
     "y": {"field": "r", "type": "quantitative", "scale": {"domain": [-0.2, 1.2], "nice": false, "zero": false}, "axis": null}
    }}
  ],
  "resolve": {"axis": {"x": "independent", "y": "independent"}}
 },
 {"width": 248, "height": 144, "title": {"text": "Hα", "offset": -2}, "data": {"name": "p4"},
  "layer": [
   {"mark": {"type": "line", "color": "#e8336b", "strokeDash": [1.5, 2], "strokeWidth": 1.2, "clip": true},
    "encoding": {
     "x": {"field": "w", "type": "quantitative", "scale": {"domain": [6543.5, 6580], "nice": false, "zero": false},
       "axis": {"orient": "bottom", "values": [6544,6546,6548,6550,6552,6554,6556,6558,6560,6562,6564,6566,6568,6570,6572,6574,6576,6578,6580], "format": "d", "labelExpr": "datum.value % 10 === 0 ? datum.label : ''", "tickSize": {"condition": {"test": "datum.value % 10 === 0", "value": -6}, "value": -3}, "labelPadding": 10, "title": "λ (Å)", "titlePadding": 0}},
     "y": {"field": "m", "type": "quantitative", "scale": {"domain": [-0.54, 1.33], "nice": false, "zero": false},
       "axis": {"orient": "left", "values": [-0.5,-0.4,-0.3,-0.2,-0.1,0,0.1,0.2,0.3,0.4,0.5,0.6,0.7,0.8,0.9,1,1.1,1.2,1.3], "format": ".1f", "labelExpr": "abs(round(datum.value*10)) % 5 === 0 ? datum.label : ''", "tickSize": {"condition": {"test": "abs(round(datum.value*10)) % 5 === 0", "value": -6}, "value": -3}, "labelPadding": 20, "title": null}}
    }},
   {"mark": {"type": "line", "color": "#000", "strokeWidth": 1.4, "clip": true},
    "encoding": {
     "x": {"field": "w", "type": "quantitative", "scale": {"domain": [6543.5, 6580], "nice": false, "zero": false},
       "axis": {"orient": "top", "values": [6544,6546,6548,6550,6552,6554,6556,6558,6560,6562,6564,6566,6568,6570,6572,6574,6576,6578,6580], "labels": false, "title": null, "tickSize": {"condition": {"test": "datum.value % 10 === 0", "value": -6}, "value": -3}}},
     "y": {"field": "o", "type": "quantitative", "scale": {"domain": [-0.54, 1.33], "nice": false, "zero": false},
       "axis": {"orient": "right", "values": [-0.5,-0.4,-0.3,-0.2,-0.1,0,0.1,0.2,0.3,0.4,0.5,0.6,0.7,0.8,0.9,1,1.1,1.2,1.3], "labels": false, "title": null, "tickSize": {"condition": {"test": "abs(round(datum.value*10)) % 5 === 0", "value": -6}, "value": -3}}}
    }},
   {"transform": [{"filter": "datum.w >= 6559.5 && datum.w <= 6564.5"}],
    "mark": {"type": "area", "color": "#a6e3a1", "clip": true},
    "encoding": {
     "x": {"field": "w", "type": "quantitative", "scale": {"domain": [6543.5, 6580], "nice": false, "zero": false}, "axis": null},
     "y": {"field": "r", "type": "quantitative", "scale": {"domain": [-0.54, 1.33], "nice": false, "zero": false}, "axis": null},
     "y2": {"datum": -0.5}
    }},
   {"mark": {"type": "line", "color": "#000", "strokeWidth": 1.4, "clip": true},
    "encoding": {
     "x": {"field": "w", "type": "quantitative", "scale": {"domain": [6543.5, 6580], "nice": false, "zero": false}, "axis": null},
     "y": {"field": "r", "type": "quantitative", "scale": {"domain": [-0.54, 1.33], "nice": false, "zero": false}, "axis": null}
    }}
  ],
  "resolve": {"axis": {"x": "independent", "y": "independent"}}
 }
 ], "spacing": -4}
], "spacing": 0}
],
"spacing": 1
}
